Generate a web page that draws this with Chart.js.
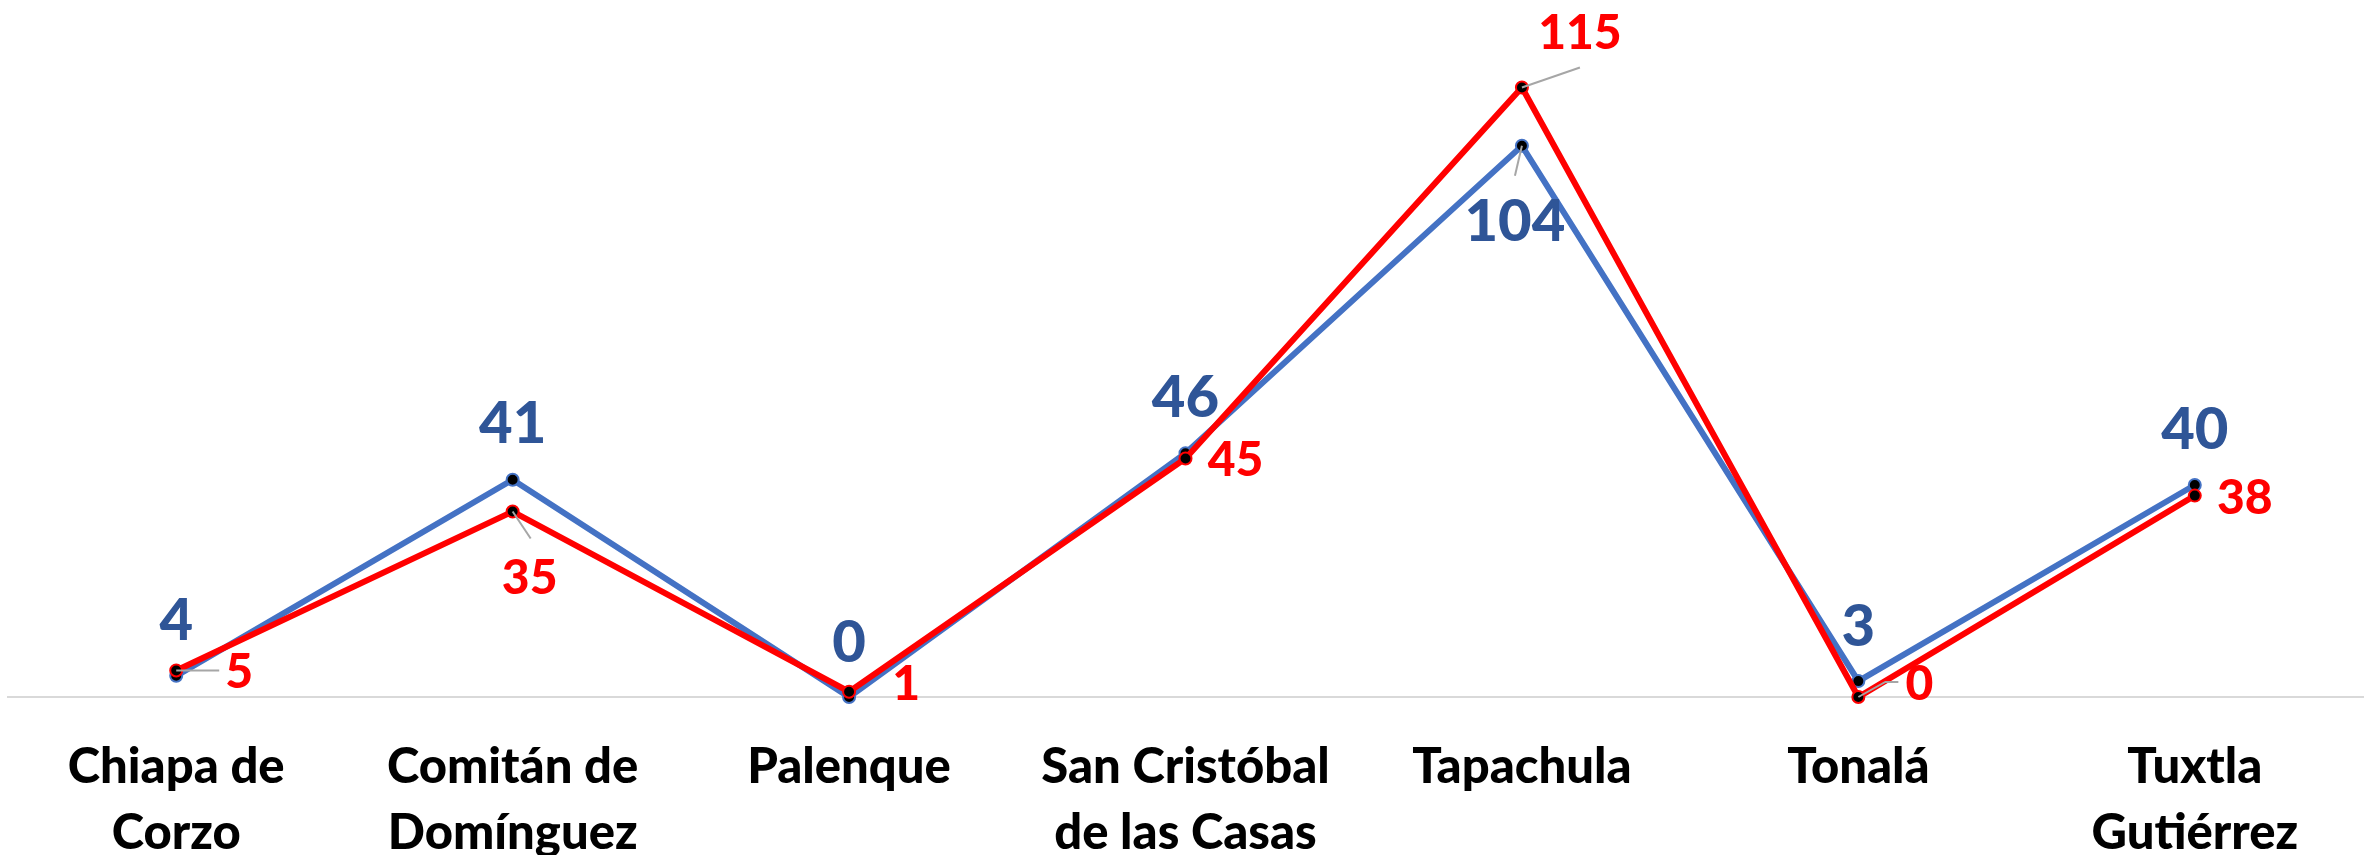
<!DOCTYPE html>
<html>
<head>
<meta charset="utf-8">
<script src="https://cdn.jsdelivr.net/npm/chart.js@4"></script>
<style>
  body { margin: 0; background: #ffffff; }
  #wrap { width: 2371px; height: 855px; position: relative; }
</style>
</head>
<body>
<div id="wrap"><canvas id="myChart"></canvas></div>
<script>
const categories = [
  ["Chiapa de", "Corzo"],
  ["Comitán de", "Domínguez"],
  ["Palenque"],
  ["San Cristóbal", "de las Casas"],
  ["Tapachula"],
  ["Tonalá"],
  ["Tuxtla", "Gutiérrez"],
];
const blueValues = [4, 41, 0, 46, 104, 3, 40];
const redValues = [5, 35, 1, 45, 115, 0, 38];

// label offsets from each point (dx, dy) and leader lines
const blueLabelOffsets = [[0, -55], [0, -55], [0, -54], [0, -55], [-7, 76], [0, -54], [0, -55]];
const redLabelOffsets = [[63, 2], [17, 67], [57, -7], [50, 2], [58, -54], [61, -12], [50, 3]];
const blueLeaders = { 4: [[0, 0], [-7, 30]] };
const redLeaders = {
  0: [[0, 0], [43, 0]],
  1: [[0, 0], [18, 27]],
  4: [[0, 0], [58, -20]],
  5: [[0, 0], [27, -15], [40, -15]],
};

const labelPlugin = {
  id: "pointLabels",
  afterDatasetsDraw(chart) {
    const ctx = chart.ctx;
    chart.data.datasets.forEach((ds, i) => {
      const meta = chart.getDatasetMeta(i);
      meta.data.forEach((pt, j) => {
        const leader = ds.leaders[j];
        if (leader) {
          ctx.save();
          ctx.strokeStyle = "#A6A6A6";
          ctx.lineWidth = 2;
          ctx.beginPath();
          leader.forEach((p, k) => {
            if (k === 0) ctx.moveTo(pt.x + p[0], pt.y + p[1]);
            else ctx.lineTo(pt.x + p[0], pt.y + p[1]);
          });
          ctx.stroke();
          ctx.restore();
        }
        const off = ds.labelOffsets[j];
        ctx.save();
        ctx.font = "900 " + ds.labelSize + "px Lato";
        ctx.fillStyle = ds.labelColor;
        ctx.textAlign = "center";
        ctx.textBaseline = "middle";
        ctx.fillText(String(ds.data[j]), pt.x + off[0], pt.y + off[1]);
        ctx.restore();
      });
    });
  },
};

new Chart(document.getElementById("myChart").getContext("2d"), {
  type: "line",
  data: {
    labels: categories,
    datasets: [
      {
        data: redValues,
        borderColor: "#FF0000",
        borderWidth: 6,
        pointRadius: 6,
        pointBorderWidth: 2,
        pointBackgroundColor: "#000000",
        pointBorderColor: "#FF0000",
        tension: 0,
        order: 0,
        clip: false,
        labelOffsets: redLabelOffsets,
        leaders: redLeaders,
        labelColor: "#FF0000",
        labelSize: 48,
      },
      {
        data: blueValues,
        borderColor: "#4472C4",
        borderWidth: 6,
        pointRadius: 6,
        pointBorderWidth: 2,
        pointBackgroundColor: "#000000",
        pointBorderColor: "#4472C4",
        tension: 0,
        order: 1,
        clip: false,
        labelOffsets: blueLabelOffsets,
        leaders: blueLeaders,
        labelColor: "#2F5597",
        labelSize: 58,
      },
    ],
  },
  options: {
    responsive: true,
    maintainAspectRatio: false,
    animation: false,
    layout: {
      padding: { left: 8, right: 4, top: 2, bottom: 0 },
    },
    plugins: {
      legend: { display: false },
      tooltip: { enabled: false },
    },
    scales: {
      x: {
        offset: true,
        grid: { display: false, drawTicks: false },
        border: { display: true, color: "#D9D9D9", width: 2 },
        ticks: {
          color: "#000000",
          padding: 38,
          maxRotation: 0,
          autoSkip: false,
          font: { family: "Lato", weight: "900", size: 49, lineHeight: 1.33 },
        },
        afterFit(scale) {
          scale.height = 158;
        },
      },
      y: {
        display: false,
        min: 0,
        max: 130,
      },
    },
  },
  plugins: [labelPlugin],
});
</script>
</body>
</html>
